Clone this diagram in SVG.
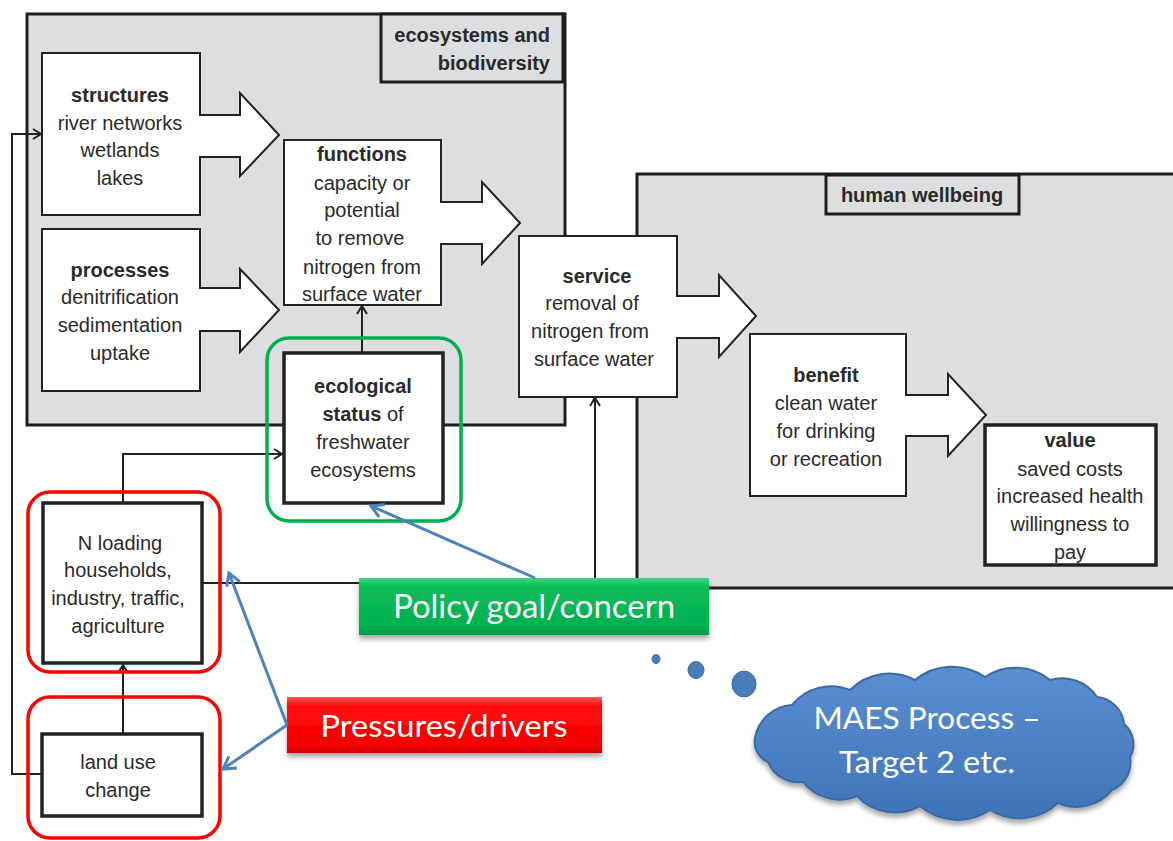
<svg xmlns="http://www.w3.org/2000/svg" width="1173" height="841" viewBox="0 0 1173 841">
<defs>
<style>
.t{font-family:"Liberation Sans",Arial,sans-serif;font-size:20px;fill:#2a2a2a;text-anchor:middle}
.b{font-weight:bold}
.area{fill:#dddee0;stroke:#1e1e1e;stroke-width:3}
.nd{fill:#fff;stroke:#222;stroke-width:2}
.nk{fill:#fff;stroke:#222;stroke-width:3.5}
.ln{fill:none;stroke:#222;stroke-width:2}
.bl{fill:none;stroke:#4f81bd;stroke-width:3}
.red{fill:none;stroke:#ff0000;stroke-width:3.5}
.grn{fill:none;stroke:#00b050;stroke-width:3.5}
.ct{font-family:Lato,"Open Sans",sans-serif;fill:#fff;text-anchor:middle}
</style>
<marker id="ak" markerUnits="userSpaceOnUse" markerWidth="14" markerHeight="14" refX="10" refY="6" orient="auto">
<path d="M2,1 L10,6 L2,11" fill="none" stroke="#222" stroke-width="2"/>
</marker>
<marker id="ab" markerUnits="userSpaceOnUse" markerWidth="20" markerHeight="20" refX="14" refY="9" orient="auto">
<path d="M2,2 L14,9 L2,16" fill="none" stroke="#4f81bd" stroke-width="3"/>
</marker>
<linearGradient id="gg" x1="0" y1="0" x2="0" y2="1">
<stop offset="0" stop-color="#3fd67e"/><stop offset="0.15" stop-color="#0cbd58"/><stop offset="0.85" stop-color="#00b050"/><stop offset="1" stop-color="#009a44"/>
</linearGradient>
<linearGradient id="gr" x1="0" y1="0" x2="0" y2="1">
<stop offset="0" stop-color="#ff5a5a"/><stop offset="0.15" stop-color="#ff0d0d"/><stop offset="0.85" stop-color="#f50000"/><stop offset="1" stop-color="#cc0000"/>
</linearGradient>
<linearGradient id="gc" x1="0" y1="0" x2="0" y2="1">
<stop offset="0" stop-color="#5b8fd0"/><stop offset="1" stop-color="#3e74b8"/>
</linearGradient>
<filter id="sh" x="-10%" y="-20%" width="120%" height="150%">
<feDropShadow dx="0" dy="4" stdDeviation="2.5" flood-color="#000" flood-opacity="0.35"/>
</filter>
</defs>
<rect width="1173" height="841" fill="#fff"/>

<g id="ecosystems-area">
<rect class="area" x="27" y="14" width="538" height="411"/>
<rect class="area" x="381" y="14" width="182" height="68"/>
<text class="t b" x="550" y="42" style="text-anchor:end">ecosystems and</text>
<text class="t b" x="550" y="70" style="text-anchor:end">biodiversity</text>
</g>
<g id="wellbeing-area">
<rect class="area" x="637" y="174" width="545" height="414"/>
<rect class="area" x="826" y="175" width="193" height="39"/>
<text class="t b" x="922" y="202">human wellbeing</text>
</g>

<g id="structures">
<path class="nd" d="M42,53 H200 V115 H240 V93 L279,135 L240,176 V157 H200 V215 H42 Z"/>
<text class="t b" x="120" y="102">structures</text>
<text class="t" x="120" y="130">river networks</text>
<text class="t" x="120" y="157">wetlands</text>
<text class="t" x="120" y="185">lakes</text>
</g>
<g id="processes">
<path class="nd" d="M42,229 H200 V288 H240 V269 L279,310 L240,352 V331 H200 V391 H42 Z"/>
<text class="t b" x="120" y="277">processes</text>
<text class="t" x="120" y="304">denitrification</text>
<text class="t" x="120" y="332">sedimentation</text>
<text class="t" x="120" y="360">uptake</text>
</g>
<g id="functions">
<path class="nd" d="M284,140 H441 V202 H482 V182 L520,223 L482,264 V244 H441 V305 H284 Z"/>
<text class="t b" x="362" y="161">functions</text>
<text class="t" x="362" y="190">capacity or</text>
<text class="t" x="362" y="217">potential</text>
<text class="t" x="360" y="245">to remove</text>
<text class="t" x="362" y="274">nitrogen  from</text>
<text class="t" x="362" y="301">surface water</text>
</g>
<g id="service">
<path class="nd" d="M519,236 H677 V296 H719 V275 L756,316 L719,357 V338 H677 V397 H519 Z"/>
<text class="t b" x="597" y="283">service</text>
<text class="t" x="592" y="310">removal of</text>
<text class="t" x="590" y="338">nitrogen from</text>
<text class="t" x="594" y="366">surface water</text>
</g>
<g id="benefit">
<path class="nd" d="M750,334 H906 V395 H948 V374 L986,415 L948,456 V436 H906 V496 H750 Z"/>
<text class="t b" x="826" y="382">benefit</text>
<text class="t" x="826" y="410">clean water</text>
<text class="t" x="826" y="438">for drinking</text>
<text class="t" x="826" y="466">or recreation</text>
</g>
<g id="value">
<rect class="nk" x="985" y="425" width="171" height="140"/>
<text class="t b" x="1070" y="447">value</text>
<text class="t" x="1070" y="476">saved costs</text>
<text class="t" x="1070" y="503">increased health</text>
<text class="t" x="1070" y="531">willingness to</text>
<text class="t" x="1070" y="559">pay</text>
</g>
<g id="ecological-status">
<rect class="nk" x="284" y="353" width="159" height="150"/>
<text class="t" x="363" y="393"><tspan class="b">ecological</tspan></text>
<text class="t" x="363" y="421"><tspan class="b">status</tspan> of</text>
<text class="t" x="363" y="449">freshwater</text>
<text class="t" x="363" y="477">ecosystems</text>
</g>
<g id="n-loading">
<rect class="nk" x="43" y="503" width="159" height="160"/>
<text class="t" x="120" y="550">N loading</text>
<text class="t" x="118" y="577">households,</text>
<text class="t" x="118" y="605">industry, traffic,</text>
<text class="t" x="118" y="633">agriculture</text>
</g>
<g id="land-use-change">
<rect class="nk" x="42" y="734" width="160" height="82"/>
<text class="t" x="118" y="769">land use</text>
<text class="t" x="118" y="797">change</text>
</g>

<g id="connectors">
<path class="ln" d="M362,353 V306" marker-end="url(#ak)"/>
<path class="ln" d="M123,503 V454 H282" marker-end="url(#ak)"/>
<path class="ln" d="M123,734 V665" marker-end="url(#ak)"/>
<path class="ln" d="M42,774 H12 V134 H41" marker-end="url(#ak)"/>
<path class="ln" d="M202,583 H595 V398" marker-end="url(#ak)"/>
</g>

<g id="highlights">
<rect class="grn" x="267" y="338" width="194" height="183" rx="22"/>
<rect class="red" x="28" y="492" width="192" height="180" rx="22"/>
<rect class="red" x="28" y="697" width="192" height="141" rx="22"/>
</g>

<g id="policy-goal">
<rect x="359" y="578" width="350" height="57" fill="url(#gg)" filter="url(#sh)"/>
<text class="ct" x="534" y="618" font-size="33" textLength="282" lengthAdjust="spacingAndGlyphs">Policy goal/concern</text>
</g>
<g id="pressures-drivers">
<rect x="287" y="697" width="315" height="56" fill="url(#gr)" filter="url(#sh)"/>
<text class="ct" x="444" y="737" font-size="31" textLength="247" lengthAdjust="spacingAndGlyphs">Pressures/drivers</text>
</g>

<g id="blue-arrows">
<path class="bl" d="M535,578 L371,506" marker-end="url(#ab)"/>
<path class="bl" d="M287,725 L229,573" marker-end="url(#ab)"/>
<path class="bl" d="M287,725 L223,769" marker-end="url(#ab)"/>
</g>

<g id="maes-cloud">
<ellipse cx="656" cy="659" rx="4" ry="4.5" fill="#4a7ebb" stroke="#3b6aa3"/>
<ellipse cx="696" cy="670" rx="8" ry="8.5" fill="#4a7ebb" stroke="#3b6aa3"/>
<ellipse cx="744" cy="684" rx="12" ry="13" fill="#4a7ebb" stroke="#3b6aa3"/>
<path fill="url(#gc)" stroke="#3b6aa3" stroke-width="2" filter="url(#sh)" d="M755,738 A40,40 0 0 1 792,705 A50,50 0 0 1 850,690 A55,55 0 0 1 915,680 A58,58 0 0 1 985,677 A55,55 0 0 1 1050,680 A42,42 0 0 1 1097,697 A30,30 0 0 1 1124,724 A26,26 0 0 1 1130,757 A30,30 0 0 1 1112,790 A46,46 0 0 1 1058,803 A56,56 0 0 1 990,810 A58,58 0 0 1 920,806 A52,52 0 0 1 857,796 A46,46 0 0 1 803,782 A33,33 0 0 1 768,762 A22,22 0 0 1 755,738 Z"/>
<text class="ct" x="927" y="729" font-size="31" textLength="227" lengthAdjust="spacingAndGlyphs">MAES Process –</text>
<text class="ct" x="927" y="773" font-size="31" textLength="176" lengthAdjust="spacingAndGlyphs">Target 2 etc.</text>
</g>
</svg>
